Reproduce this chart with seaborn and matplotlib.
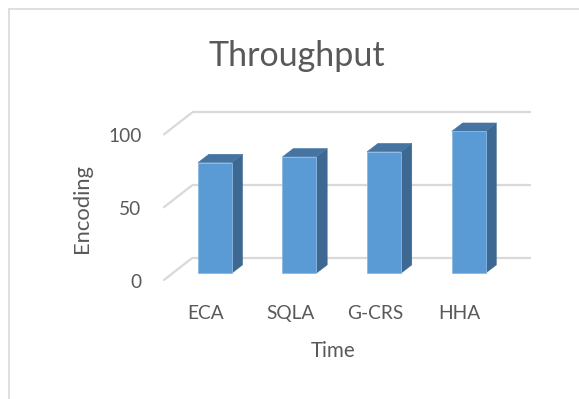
import matplotlib
matplotlib.use("Agg")
import matplotlib.pyplot as plt
import seaborn as sns
import pandas as pd
from matplotlib.patches import Polygon
from matplotlib.lines import Line2D

categories = ["ECA", "SQLA", "G-CRS", "HHA"]
values = [76, 80, 83.5, 97.5]
y_ticks = [0, 50, 100]
y_tick_labels = ["0", "50", "100"]
title = "Throughput"
x_label = "Time"
y_label = "Encoding"

FRONT = "#5B9BD5"
SIDE = "#3C6891"
TOP = "#4574A3"
GRID = "#D9D9D9"
TEXT = "#595959"
FONT = ["Lato", "DejaVu Sans"]

sns.set_theme(style="white")
plt.rcParams["font.family"] = FONT

W, H = 579, 399
fig = plt.figure(figsize=(W / 100, H / 100), dpi=100)
ax = fig.add_axes([172.5 / W, (H - 273.3) / H, 338.4 / W, 145.6 / H])

df = pd.DataFrame({"cat": categories, "val": values})
sns.barplot(data=df, x="cat", y="val", width=0.4, color=FRONT, saturation=1,
            edgecolor="#8DB8E3", linewidth=0.6, ax=ax, zorder=3)
ax.set_xlim(-0.5, len(categories) - 0.5)
ax.set_ylim(0, 100)
ax.axis("off")

# pixel -> data conversion
px_x = (ax.transData.transform((1, 0))[0] - ax.transData.transform((0, 0))[0])
px_y = (ax.transData.transform((0, 1))[1] - ax.transData.transform((0, 0))[1])

def d(dx_px, dy_px):
    return dx_px / px_x, dy_px / px_y

# back wall and front edge offsets (relative to bar-front plane)
bx, by = d(19.7, 15.3)
fx, fy = d(-9.2, -7.2)
x0, x1 = -0.5, len(categories) - 0.5
for t in y_ticks:
    ax.plot([x0 + bx, x1 + bx], [t + by, t + by], color=GRID, lw=1.6,
            clip_on=False, zorder=1, solid_capstyle="butt")
    ax.plot([x0 + fx, x0 + bx], [t + fy, t + by], color=GRID, lw=1.6,
            clip_on=False, zorder=1, solid_capstyle="butt")

# 3D depth for bars
ddx, ddy = d(10.9, 8.4)
for p in ax.patches:
    xa = p.get_x()
    xb = xa + p.get_width()
    h = p.get_height()
    side = Polygon([(xb, 0), (xb + ddx, ddy), (xb + ddx, h + ddy), (xb, h)],
                   closed=True, facecolor=SIDE, edgecolor=SIDE, lw=0.3,
                   clip_on=False, zorder=2)
    top = Polygon([(xa, h), (xa + ddx, h + ddy), (xb + ddx, h + ddy), (xb, h)],
                  closed=True, facecolor=TOP, edgecolor=TOP, lw=0.3,
                  clip_on=False, zorder=2)
    ax.add_patch(side)
    ax.add_patch(top)
    p.set_clip_on(False)

# tick labels
lx, ly = d(-31, -2)
for t, lab in zip(y_ticks, y_tick_labels):
    ax.text(x0 + lx, t + fy + ly, lab, ha="right", va="center",
            fontsize=13.8, color=TEXT, clip_on=False)
cx, cy = d(-9.2, -46)
for i, lab in enumerate(categories):
    ax.text(i + cx, cy, lab, ha="center", va="baseline",
            fontsize=13.8, color=TEXT, clip_on=False)

fig.text(296.5 / W, (H - 65.7) / H, title, ha="center", va="baseline",
         fontsize=24.5, color=TEXT)
fig.text(333.3 / W, (H - 356.7) / H, x_label, ha="center", va="baseline",
         fontsize=14.8, color=TEXT)
fig.text(82.5 / W, (H - 208.3) / H, y_label, ha="center", va="center",
         rotation=90, fontsize=15.8, color=TEXT)

# chart-area border
fig.add_artist(Line2D([8.5 / W, 1], [(H - 8.5) / H, (H - 8.5) / H], color=GRID, lw=1.2))
fig.add_artist(Line2D([8.5 / W, 8.5 / W], [0, (H - 8.5) / H], color=GRID, lw=1.2))

fig.savefig("out.png", dpi=100, facecolor="white")
